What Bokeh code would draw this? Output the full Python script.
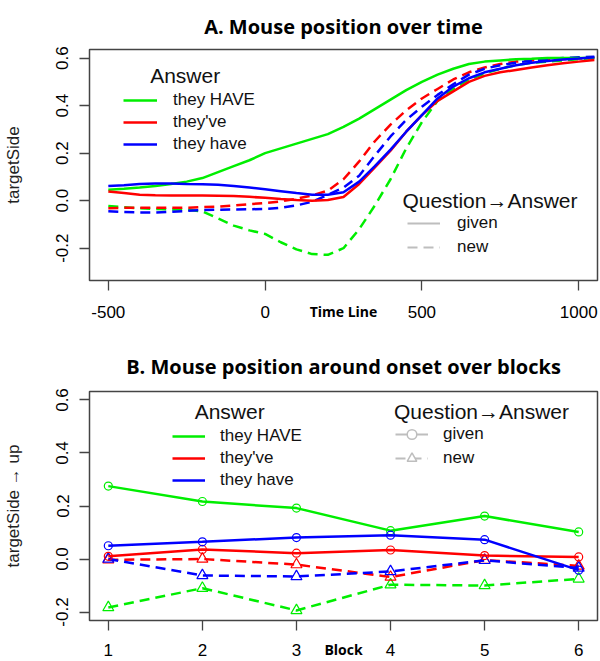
import numpy as np
from bokeh.plotting import figure
from bokeh.models import Range1d, FixedTicker, Legend, LegendItem, Label, PrintfTickFormatter
from bokeh.layouts import column
from bokeh.embed import file_html
from bokeh.resources import INLINE

# ---------------- Panel A data (time course) ----------------
time_ms = [-500, -450, -400, -350, -300, -250, -200, -150, -100, -50, 0, 50, 100, 150, 200, 250,
           300, 350, 400, 450, 500, 550, 600, 650, 700, 750, 800, 850, 900, 950, 1000, 1050]

have_caps_given = [0.046, 0.050, 0.055, 0.062, 0.070, 0.080, 0.095, 0.120, 0.145, 0.170, 0.200, 0.220,
                   0.240, 0.260, 0.280, 0.310, 0.345, 0.385, 0.425, 0.465, 0.500, 0.530, 0.555, 0.575,
                   0.585, 0.590, 0.595, 0.597, 0.600, 0.600, 0.600, 0.600]
theyve_given = [0.038, 0.032, 0.025, 0.023, 0.022, 0.022, 0.022, 0.021, 0.020, 0.016, 0.012, 0.007,
                0.003, 0.000, 0.003, 0.015, 0.070, 0.140, 0.210, 0.290, 0.360, 0.420, 0.460, 0.500,
                0.525, 0.540, 0.550, 0.560, 0.570, 0.578, 0.585, 0.592]
have_given = [0.062, 0.065, 0.070, 0.072, 0.072, 0.070, 0.069, 0.067, 0.062, 0.055, 0.048, 0.040,
              0.032, 0.025, 0.025, 0.035, 0.080, 0.145, 0.215, 0.290, 0.360, 0.430, 0.480, 0.515,
              0.540, 0.555, 0.570, 0.580, 0.588, 0.594, 0.598, 0.603]
have_caps_new = [-0.022, -0.028, -0.032, -0.035, -0.037, -0.038, -0.045, -0.075, -0.105, -0.125, -0.140,
                 -0.175, -0.205, -0.225, -0.228, -0.200, -0.120, -0.020, 0.090, 0.220, 0.330, 0.420,
                 0.470, 0.510, 0.535, 0.555, 0.570, 0.580, 0.585, 0.590, 0.595, 0.600]
theyve_new = [-0.032, -0.030, -0.030, -0.030, -0.030, -0.030, -0.027, -0.025, -0.020, -0.015, -0.010,
              -0.003, 0.008, 0.022, 0.042, 0.090, 0.165, 0.250, 0.320, 0.380, 0.430, 0.470, 0.510,
              0.540, 0.560, 0.575, 0.585, 0.590, 0.593, 0.596, 0.598, 0.600]
have_new = [-0.045, -0.048, -0.050, -0.050, -0.047, -0.043, -0.040, -0.038, -0.037, -0.036, -0.035,
            -0.030, -0.020, -0.005, 0.025, 0.055, 0.105, 0.190, 0.270, 0.340, 0.395, 0.445, 0.490,
            0.530, 0.555, 0.570, 0.580, 0.590, 0.595, 0.600, 0.603, 0.606]

# ---------------- Panel B data (blocks) ----------------
blocks = [1, 2, 3, 4, 5, 6]
b_have_caps_given = [0.275, 0.217, 0.192, 0.107, 0.162, 0.102]
b_theyve_given = [0.010, 0.036, 0.022, 0.034, 0.013, 0.008]
b_have_given = [0.050, 0.065, 0.081, 0.090, 0.073, -0.042]
b_have_caps_new = [-0.183, -0.110, -0.194, -0.097, -0.100, -0.075]
b_theyve_new = [-0.003, 0.000, -0.021, -0.068, -0.004, -0.026]
b_have_new = [0.000, -0.062, -0.066, -0.047, -0.005, -0.034]

answer_labels = ["they HAVE", "they've", "they have"]
qa_labels = ["given", "new"]

GREEN = "#00ee00"
RED = "#ff0000"
BLUE = "#0000ff"
GRAY = "#bebebe"
DASH = "10 6"
LW = 2.5
FONT = "Liberation Sans"


def style(p):
    p.background_fill_color = "white"
    p.border_fill_color = "white"
    p.outline_line_color = "#444444"
    p.outline_line_width = 1.5
    p.xgrid.visible = False
    p.ygrid.visible = False
    p.title.align = "center"
    p.title.text_font = "Open Sans"
    p.title.text_font_style = "bold"
    p.title.text_font_size = "20px"
    p.title.text_color = "black"
    for ax in (p.xaxis[0], p.yaxis[0]):
        ax.axis_line_color = None
        ax.major_tick_out = 10
        ax.major_tick_in = 0
        ax.minor_tick_line_color = None
        ax.major_tick_line_color = "#444444"
        ax.major_tick_line_width = 1.3
        ax.major_label_text_font = FONT
        ax.major_label_text_font_size = "17px"
        ax.major_label_text_color = "black"
    p.yaxis.axis_label_text_font = FONT
    p.yaxis.axis_label_text_font_size = "17px"
    p.yaxis.axis_label_text_font_style = "normal"
    p.yaxis.axis_label_text_color = "#222222"
    p.xaxis.axis_label_text_font = "Open Sans"
    p.xaxis.axis_label_text_font_size = "14px"
    p.xaxis.axis_label_text_font_style = "bold"
    p.xaxis.axis_label_text_color = "black"
    p.xaxis.axis_label_standoff = -19
    p.yaxis.major_label_standoff = 11
    p.yaxis.major_label_orientation = "vertical"
    p.yaxis.axis_label_standoff = 31


# ================= Panel A =================
pA = figure(width=600, height=338, x_range=Range1d(-560, 1060), y_range=Range1d(-0.336, 0.636),
            output_backend="svg", toolbar_location=None, title="A. Mouse position over time",
            min_border_left=89, min_border_right=3, min_border_top=49, min_border_bottom=58)
style(pA)
pA.title.vertical_align = "top"
pA.title.standoff = 16
pA.xaxis.major_label_standoff = 15
pA.xaxis.ticker = FixedTicker(ticks=[-500, 0, 500, 1000])
pA.xaxis.formatter = PrintfTickFormatter(format="%d")
pA.yaxis.ticker = FixedTicker(ticks=[-0.2, 0.0, 0.2, 0.4, 0.6])
pA.yaxis.formatter = PrintfTickFormatter(format="%.1f")
pA.yaxis.axis_label = "targetSide"
pA.xaxis.axis_label = "Time Line"

pA.line(time_ms, have_caps_new, color=GREEN, line_width=LW, line_dash=DASH)
pA.line(time_ms, theyve_new, color=RED, line_width=LW, line_dash=DASH)
pA.line(time_ms, have_new, color=BLUE, line_width=LW, line_dash=DASH)
rA_g = pA.line(time_ms, have_caps_given, color=GREEN, line_width=LW)
rA_r = pA.line(time_ms, theyve_given, color=RED, line_width=LW)
rA_b = pA.line(time_ms, have_given, color=BLUE, line_width=LW)
dA_given = pA.line([np.nan, np.nan], [np.nan, np.nan], color=GRAY, line_width=2)
dA_new = pA.line([np.nan, np.nan], [np.nan, np.nan], color=GRAY, line_width=2, line_dash=DASH)

legA1 = Legend(items=[LegendItem(label=answer_labels[0], renderers=[rA_g]),
                      LegendItem(label=answer_labels[1], renderers=[rA_r]),
                      LegendItem(label=answer_labels[2], renderers=[rA_b])],
               location=(34, 125), glyph_width=34, glyph_height=22, label_height=22, spacing=0,
               label_standoff=16, padding=0, margin=0, border_line_color=None,
               background_fill_alpha=0, label_text_font=FONT, label_text_font_size="17px",
               label_text_color="#111111")
legA2 = Legend(items=[LegendItem(label=qa_labels[0], renderers=[dA_given]),
                      LegendItem(label=qa_labels[1], renderers=[dA_new])],
               location=(318, 21), glyph_width=33, glyph_height=24, label_height=24, spacing=0,
               label_standoff=17, padding=0, margin=0, border_line_color=None,
               background_fill_alpha=0, label_text_font=FONT, label_text_font_size="17px",
               label_text_color="#111111")
pA.add_layout(legA1)
pA.add_layout(legA2)
pA.add_layout(Label(x=-255, y=0.525, text="Answer", text_align="center", text_baseline="middle",
                    text_font=FONT, text_font_size="21px", text_color="#111111"))
pA.add_layout(Label(x=717, y=0.0, text="Question→Answer", text_align="center", text_baseline="middle",
                    text_font=FONT, text_font_size="21px", text_color="#111111"))

# ================= Panel B =================
pB = figure(width=600, height=323, x_range=Range1d(0.8, 6.2), y_range=Range1d(-0.232, 0.632),
            output_backend="svg", toolbar_location=None,
            title="B. Mouse position around onset over blocks",
            min_border_left=89, min_border_right=3, min_border_top=52, min_border_bottom=41)
style(pB)
pB.title.standoff = 24
pB.xaxis.major_label_standoff = 13
pB.xaxis.ticker = FixedTicker(ticks=blocks)
pB.xaxis.formatter = PrintfTickFormatter(format="%d")
pB.yaxis.ticker = FixedTicker(ticks=[-0.2, 0.0, 0.2, 0.4, 0.6])
pB.yaxis.formatter = PrintfTickFormatter(format="%.1f")
pB.yaxis.axis_label = "targetSide → up"
pB.xaxis.axis_label = "Block"

for ys, col in ((b_have_caps_new, GREEN), (b_theyve_new, RED), (b_have_new, BLUE)):
    pB.line(blocks, ys, color=col, line_width=LW, line_dash=DASH)
    pB.scatter(blocks, ys, marker="triangle", size=11, fill_color=None, line_color=col, line_width=1.2)
rB = []
for ys, col in ((b_have_caps_given, GREEN), (b_theyve_given, RED), (b_have_given, BLUE)):
    rB.append(pB.line(blocks, ys, color=col, line_width=LW))
    pB.scatter(blocks, ys, marker="circle", size=8, fill_color=None, line_color=col, line_width=1.2)

dB_gl = pB.line([np.nan, np.nan], [np.nan, np.nan], color=GRAY, line_width=2)
dB_gm = pB.scatter([np.nan], [np.nan], marker="circle", size=7, fill_color="white", line_color=GRAY, line_width=1.5)
dB_nl = pB.line([np.nan, np.nan], [np.nan, np.nan], color=GRAY, line_width=2, line_dash=DASH)
dB_nm = pB.scatter([np.nan], [np.nan], marker="triangle", size=10, fill_color="white", line_color=GRAY, line_width=1.5)

legB1 = Legend(items=[LegendItem(label=answer_labels[i], renderers=[rB[i]]) for i in range(3)],
               location=(83, 129), glyph_width=33, glyph_height=22, label_height=22, spacing=0,
               label_standoff=15, padding=0, margin=0, border_line_color=None,
               background_fill_alpha=0, label_text_font=FONT, label_text_font_size="17px",
               label_text_color="#111111")
legB2 = Legend(items=[LegendItem(label=qa_labels[0], renderers=[dB_gl, dB_gm]),
                      LegendItem(label=qa_labels[1], renderers=[dB_nl, dB_nm])],
               location=(306, 150), glyph_width=33, glyph_height=24, label_height=24, spacing=0,
               label_standoff=15, padding=0, margin=0, border_line_color=None,
               background_fill_alpha=0, label_text_font=FONT, label_text_font_size="17px",
               label_text_color="#111111")
pB.add_layout(legB1)
pB.add_layout(legB2)
pB.add_layout(Label(x=2.29, y=0.555, text="Answer", text_align="center", text_baseline="middle",
                    text_font=FONT, text_font_size="21px", text_color="#111111"))
pB.add_layout(Label(x=4.967, y=0.555, text="Question→Answer", text_align="center", text_baseline="middle",
                    text_font=FONT, text_font_size="21px", text_color="#111111"))

layout = column(pA, pB, spacing=0)
open("out.html", "w").write(file_html(layout, INLINE))
